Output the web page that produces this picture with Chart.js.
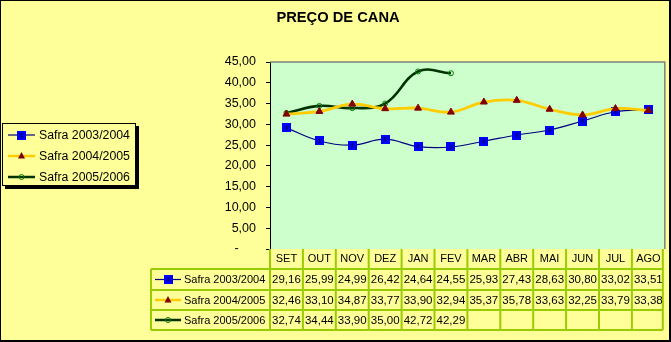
<!DOCTYPE html>
<html>
<head>
<meta charset="utf-8">
<script src="https://cdn.jsdelivr.net/npm/chart.js@4.4.1/dist/chart.umd.min.js"></script>
<style>
    html, body { margin: 0; padding: 0; background: #ffff99; }
    #cane-price { display: block; }
</style>
</head>
<body>
<canvas id="cane-price" width="671" height="342"></canvas>
<script>
(function () {
    const months = ["SET", "OUT", "NOV", "DEZ", "JAN", "FEV", "MAR", "ABR", "MAI", "JUN", "JUL", "AGO"];
    const seriesNames = ["Safra 2003/2004", "Safra 2004/2005", "Safra 2005/2006"];
    const safra0304 = [29.16, 25.99, 24.99, 26.42, 24.64, 24.55, 25.93, 27.43, 28.63, 30.80, 33.02, 33.51];
    const safra0405 = [32.46, 33.10, 34.87, 33.77, 33.90, 32.94, 35.37, 35.78, 33.63, 32.25, 33.79, 33.38];
    const safra0506 = [32.74, 34.44, 33.90, 35.00, 42.72, 42.29, null, null, null, null, null, null];
    const yMin = 0;
    const yMax = 45;
    const yStep = 5;

    const FONT = "'Liberation Sans', Arial, sans-serif";
    const PAGE_BG = "#ffff99";
    const PLOT_BG = "#ccffcc";
    const GRID_GREEN = "#99cc00";

    function formatValue(v) {
        return v.toFixed(2).replace(".", ",");
    }

    // blue square with a navy asterisk, used as point style
    function makeSquareMarker() {
        const c = document.createElement("canvas");
        c.width = 9;
        c.height = 9;
        const g = c.getContext("2d");
        g.fillStyle = "#0000ff";
        g.fillRect(0, 0, 9, 9);
        g.strokeStyle = "#000080";
        g.lineWidth = 1;
        g.beginPath();
        g.moveTo(4.5, 2); g.lineTo(4.5, 7);
        g.moveTo(2.5, 3); g.lineTo(6.5, 6);
        g.moveTo(6.5, 3); g.lineTo(2.5, 6);
        g.stroke();
        return c;
    }
    const squareMarker = makeSquareMarker();

    const styles = [
        { line: "#000080", width: 1.2, marker: "square" },
        { line: "#ffcc00", width: 2.8, marker: "triangle" },
        { line: "#003300", width: 2.6, marker: "circle" }
    ];

    function drawMarker(ctx, kind, x, y) {
        ctx.save();
        if (kind === "square") {
            ctx.drawImage(squareMarker, Math.round(x - 4.5), Math.round(y - 4.5));
        } else if (kind === "triangle") {
            ctx.fillStyle = "#800000";
            ctx.beginPath();
            ctx.moveTo(x, y - 4);
            ctx.lineTo(x + 3.5, y + 2.5);
            ctx.lineTo(x - 3.5, y + 2.5);
            ctx.closePath();
            ctx.fill();
        } else {
            ctx.strokeStyle = "#008000";
            ctx.lineWidth = 1;
            ctx.beginPath();
            ctx.arc(x, y, 2.5, 0, Math.PI * 2);
            ctx.stroke();
        }
        ctx.restore();
    }

    function drawSample(ctx, idx, x0, x1, y) {
        ctx.save();
        ctx.strokeStyle = styles[idx].line;
        ctx.lineWidth = idx === 0 ? 1.2 : 2.5;
        ctx.beginPath();
        ctx.moveTo(x0, y);
        ctx.lineTo(x1, y);
        ctx.stroke();
        ctx.restore();
        drawMarker(ctx, styles[idx].marker, (x0 + x1) / 2, y);
    }

    const chartDecor = {
        id: "chartDecor",
        beforeDraw: function (chart) {
            const ctx = chart.ctx;
            const area = chart.chartArea;
            ctx.save();
            ctx.fillStyle = PAGE_BG;
            ctx.fillRect(0, 0, chart.width, chart.height);
            ctx.fillStyle = PLOT_BG;
            ctx.fillRect(area.left, area.top, area.right - area.left, area.bottom - area.top);
            ctx.restore();
        },
        afterDraw: function (chart) {
            const ctx = chart.ctx;
            const area = chart.chartArea;
            const xScale = chart.scales.x;
            const allSeries = [safra0304, safra0405, safra0506];
            ctx.save();

            // plot frame, top and right
            ctx.strokeStyle = "#808080";
            ctx.lineWidth = 1.5;
            ctx.beginPath();
            ctx.moveTo(area.left, area.top);
            ctx.lineTo(area.right, area.top);
            ctx.lineTo(area.right, area.bottom);
            ctx.stroke();

            // title
            ctx.fillStyle = "#000";
            ctx.font = "bold 14.7px " + FONT;
            ctx.textAlign = "center";
            ctx.textBaseline = "middle";
            ctx.fillText("PREÇO DE CANA", 338, 18);

            // legend box with shadow
            ctx.fillStyle = "#000";
            ctx.fillRect(5, 126, 134, 63);
            ctx.fillStyle = PAGE_BG;
            ctx.fillRect(2, 123, 134, 63);
            ctx.strokeStyle = "#000";
            ctx.lineWidth = 1;
            ctx.strokeRect(2.5, 123.5, 133, 62);
            ctx.font = "12.3px " + FONT;
            ctx.textAlign = "left";
            ctx.fillStyle = "#000";
            [135, 156, 177].forEach(function (y, i) {
                drawSample(ctx, i, 8, 35, y);
                ctx.fillStyle = "#000";
                ctx.fillText(seriesNames[i], 39, y + 0.5);
            });

            // data table
            const band = (area.right - area.left) / months.length;
            const legendLeft = 151;
            const headerTop = area.bottom;
            const rowTops = [269, 290, 310];
            const tableBottom = 330;
            const rowMid = [280, 300.5, 320.5];

            ctx.strokeStyle = GRID_GREEN;
            ctx.lineWidth = 2;
            ctx.beginPath();
            // horizontal rules
            ctx.moveTo(legendLeft, rowTops[0]); ctx.lineTo(area.right - 2, rowTops[0]);
            ctx.moveTo(legendLeft, rowTops[1]); ctx.lineTo(area.right - 2, rowTops[1]);
            ctx.moveTo(legendLeft, rowTops[2]); ctx.lineTo(area.right - 2, rowTops[2]);
            ctx.moveTo(legendLeft, tableBottom); ctx.lineTo(area.right - 2, tableBottom);
            // left edge of the series-name column
            ctx.moveTo(legendLeft, rowTops[0]); ctx.lineTo(legendLeft, tableBottom);
            // column dividers
            for (let i = 0; i <= months.length; i++) {
                const x = i === months.length ? area.right - 2 : area.left + i * band;
                ctx.moveTo(x, headerTop); ctx.lineTo(x, tableBottom);
            }
            ctx.stroke();

            ctx.textAlign = "center";
            ctx.fillStyle = "#000";
            months.forEach(function (m, i) {
                const cx = xScale.getPixelForValue(i);
                ctx.font = "11px " + FONT;
                ctx.fillText(m, cx, 259);
                ctx.font = "11.5px " + FONT;
                allSeries.forEach(function (series, s) {
                    if (series[i] !== null) {
                        ctx.fillText(formatValue(series[i]), cx, rowMid[s]);
                    }
                });
            });

            ctx.font = "11px " + FONT;
            ctx.textAlign = "left";
            rowMid.forEach(function (y, i) {
                drawSample(ctx, i, 155, 181, y - 0.5);
                ctx.fillStyle = "#000";
                ctx.fillText(seriesNames[i], 184, y);
            });

            // outer border
            ctx.strokeStyle = "#000";
            ctx.lineWidth = 1;
            ctx.strokeRect(0.5, 0.5, chart.width - 1, chart.height - 1);
            ctx.fillStyle = "#000";
            ctx.fillRect(0, chart.height - 2, chart.width, 2);
            ctx.fillRect(chart.width - 2, 0, 2, chart.height);
            ctx.restore();
        }
    };

    new Chart(document.getElementById("cane-price").getContext("2d"), {
        type: "line",
        data: {
            labels: months,
            datasets: [
                {
                    label: seriesNames[0],
                    data: safra0304,
                    borderColor: styles[0].line,
                    borderWidth: styles[0].width,
                    pointStyle: squareMarker,
                    pointRadius: 5,
                    tension: 0.4,
                    order: 3
                },
                {
                    label: seriesNames[1],
                    data: safra0405,
                    borderColor: styles[1].line,
                    borderWidth: styles[1].width,
                    pointStyle: "triangle",
                    pointRadius: 4,
                    pointBackgroundColor: "#800000",
                    pointBorderColor: "#800000",
                    pointBorderWidth: 1,
                    tension: 0.4,
                    order: 1
                },
                {
                    label: seriesNames[2],
                    data: safra0506,
                    borderColor: styles[2].line,
                    borderWidth: styles[2].width,
                    pointStyle: "circle",
                    pointRadius: 2.5,
                    pointBackgroundColor: "rgba(0,0,0,0)",
                    pointBorderColor: "#008000",
                    pointBorderWidth: 1,
                    tension: 0.4,
                    order: 2
                }
            ]
        },
        options: {
            responsive: false,
            animation: false,
            layout: {
                padding: { left: 0, top: 62, right: 4, bottom: 93 }
            },
            plugins: {
                legend: { display: false },
                title: { display: false },
                tooltip: { enabled: false }
            },
            scales: {
                x: {
                    type: "category",
                    display: false,
                    offset: true
                },
                y: {
                    min: yMin,
                    max: yMax,
                    afterFit: function (scale) {
                        scale.width = 270;
                    },
                    border: { display: true, color: "#000", width: 1 },
                    grid: {
                        drawOnChartArea: false,
                        drawTicks: true,
                        tickLength: 4,
                        tickColor: "#000"
                    },
                    ticks: {
                        stepSize: yStep,
                        padding: 10,
                        color: "#000",
                        font: { family: FONT, size: 12.5 },
                        callback: function (value) {
                            return value === 0 ? "-     " : formatValue(value);
                        }
                    }
                }
            }
        },
        plugins: [chartDecor]
    });
})();
</script>
</body>
</html>
